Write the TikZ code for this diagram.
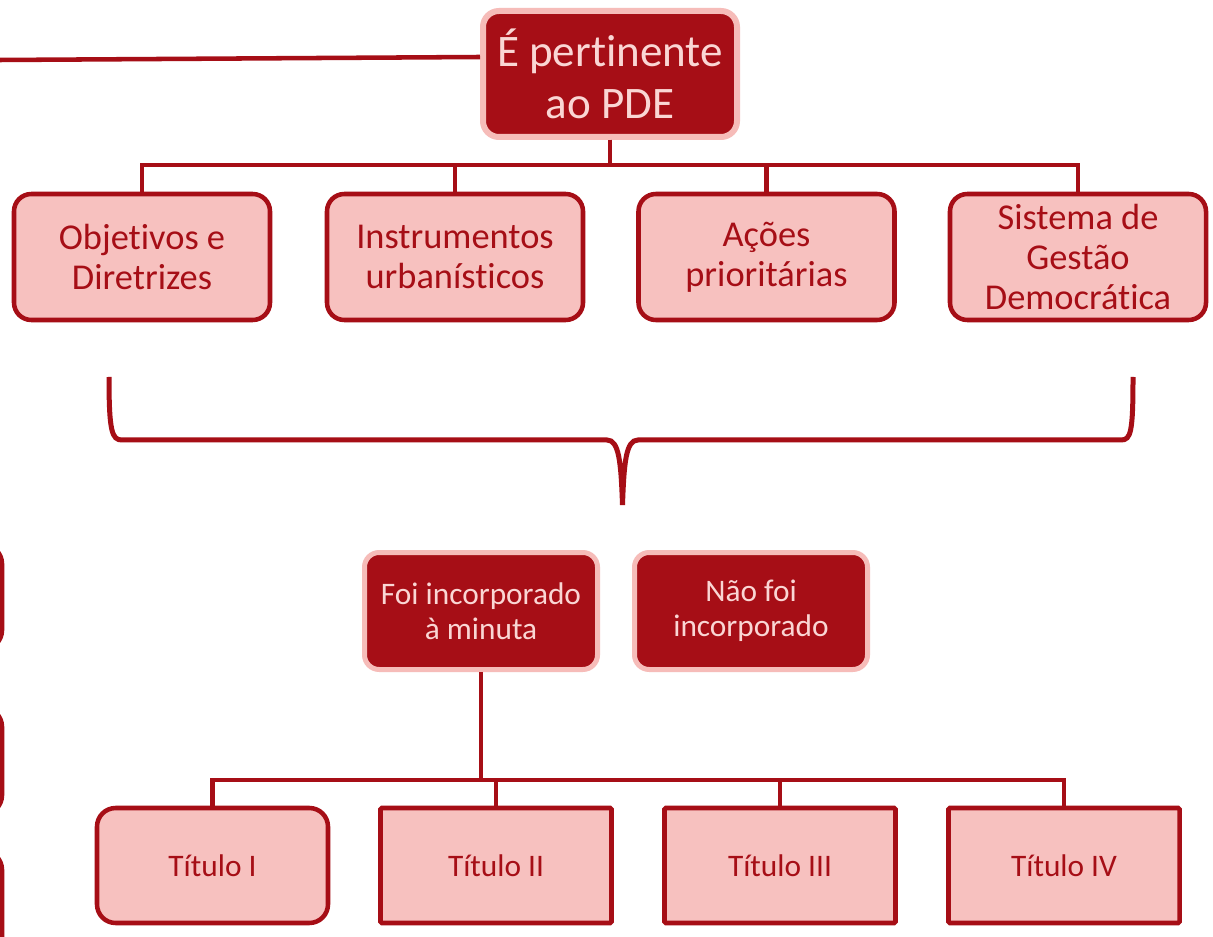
\documentclass[tikz,border=0pt]{standalone}
\usepackage{fontspec}
\setmainfont[Ligatures={NoCommon,NoRare,NoContextual},Contextuals={NoAlternate}]{Carlito}
\newcommand{\tiNoLig}{t\kern0pt i}
\newcommand{\tiaNoLig}{t\kern0pt á}
\definecolor{dred}{RGB}{166,14,22}
\definecolor{lpink}{RGB}{247,193,191}
\definecolor{bpink}{RGB}{246,188,185}
\definecolor{tpink}{RGB}{250,214,212}
\begin{document}
\begin{tikzpicture}[x=0.75pt,y=-0.75pt,
  darkbox/.style={draw=bpink, fill=dred, text=tpink, align=center, inner sep=0pt},
  lightbox/.style={draw=dred, fill=lpink, text=dred, align=center, inner sep=0pt, line width=3.4pt},
  conn/.style={draw=dred, line width=3.4pt},
  topfont/.style={font=\fontsize{33.8}{39}\selectfont},
  midfont/.style={font=\fontsize{27.3}{30.2}\selectfont},
  smallfont/.style={font=\fontsize{23.5}{26.3}\selectfont}]
\useasboundingbox (0,0) rectangle (1213,937);
\clip (0,0) rectangle (1213,937);
\fill[white] (0,0) rectangle (1213,937);

% top box
\node[darkbox, topfont, line width=4.5pt, rounded corners=12pt,
      minimum width=190.5pt, minimum height=94.5pt] (top) at (610,74) {É per\tiNoLig nente\\ao PDE};

% second row
\foreach \n/\x/\t in {o1/142/{Obje\tiNoLig vos e\\Diretrizes},
                      o2/455/{Instrumentos\\urbanís\tiNoLig cos},
                      o3/766.5/{Ações\\prioritárias},
                      o4/1078/{Sistema de\\Gestão\\Democrá\tiNoLig ca}}{
  \node[lightbox, midfont, rounded corners=13pt,
        minimum width=192pt, minimum height=94.5pt] (\n) at (\x,257) {\t};
}
\coordinate (bus1) at (610,165);
\foreach \n in {o1,o2,o3,o4}{
  \draw[conn] (top.south) -- (bus1) -| (\n.north);
}

% left line
\coordinate (lstart) at (0,60);
\draw[conn] (lstart) -- ([yshift=12.75pt]top.west);

% brace
\draw[dred, line width=3.75pt]
  (109,377) .. controls (109,432) and (112,440) .. (122,440)
  -- (607,440) .. controls (619,440) and (621,462) .. (622.5,505)
  .. controls (624,462) and (626,440) .. (638,440)
  -- (1121,440) .. controls (1131,440) and (1133,432) .. (1133,377);

% third row
\node[darkbox, smallfont, line width=3.75pt, rounded corners=11pt,
      minimum width=174.75pt, minimum height=87.75pt] (foi) at (481,611) {Foi incorporado\\à minuta};
\node[darkbox, smallfont, line width=3.75pt, rounded corners=11pt,
      minimum width=174.75pt, minimum height=87.75pt] (nao) at (751,611) {Não foi\\incorporado};

% fourth row
\node[lightbox, smallfont, rounded corners=14pt,
      minimum width=173.25pt, minimum height=86.25pt] (t1) at (212.5,865.5) {Título I};
\node[lightbox, smallfont, rounded corners=1pt,
      minimum width=173.25pt, minimum height=86.25pt] (t2) at (496,865.5) {Título II};
\node[lightbox, smallfont, rounded corners=1pt,
      minimum width=173.25pt, minimum height=86.25pt] (t3) at (780,865.5) {Título III};
\node[lightbox, smallfont, rounded corners=1pt,
      minimum width=173.25pt, minimum height=86.25pt] (t4) at (1064,865.5) {Título IV};
\coordinate (bus2) at (481,780);
\foreach \n in {t1,t2,t3,t4}{
  \draw[conn] (foi.south) -- (bus2) -| (\n.north);
}

% partial boxes at the left edge
\draw[dred, line width=3.4pt, rounded corners=14pt] (-100,545) -- (2,545) -- (2,649) -- (-100,649);
\draw[dred, line width=3.4pt, rounded corners=14pt] (-100,708) -- (2,708) -- (2,814) -- (-100,814);
\draw[dred, line width=3.4pt, rounded corners=14pt] (-100,851) -- (2,851) -- (2,1000);
\end{tikzpicture}
\end{document}
